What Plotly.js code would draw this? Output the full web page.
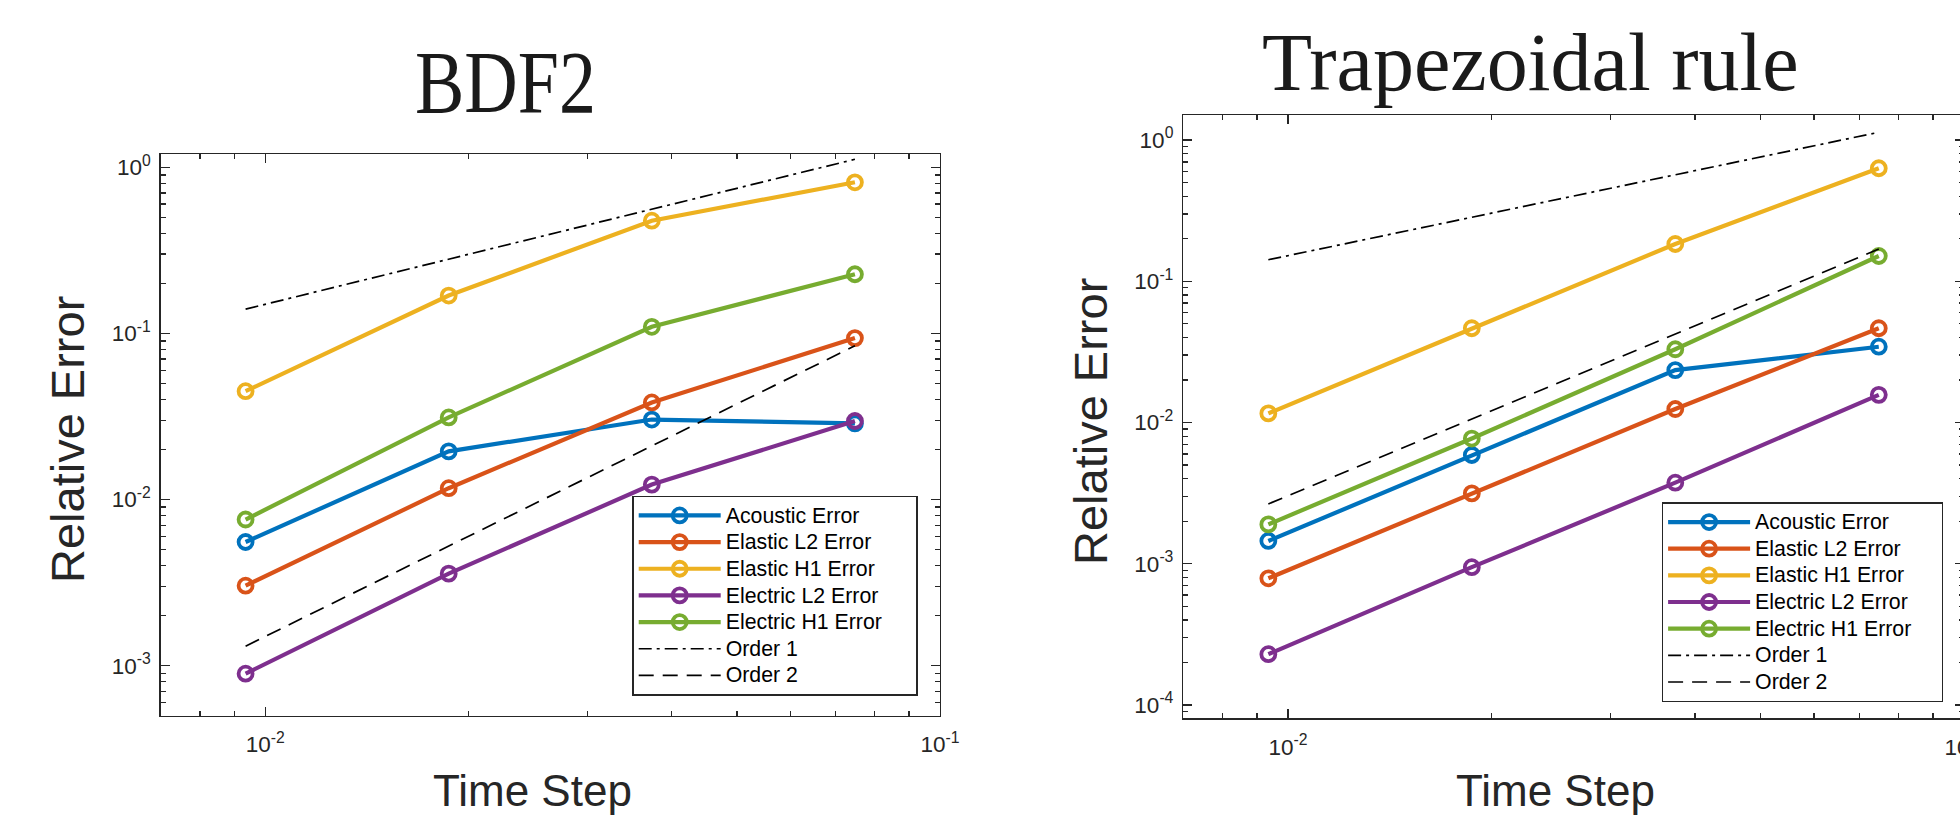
<!DOCTYPE html>
<html>
<head>
<meta charset="utf-8">
<script src="https://cdn.plot.ly/plotly-3.0.1.min.js"></script>
<style>
html,body{margin:0;padding:0;background:#fff;overflow:hidden;}
#chart{width:1980px;height:816px;}
/* legend: larger text with tight rows (as in the reference) */
#chart g.legend text, #chart g.legend2 text, #chart text.legendtext{font-size:21.3px !important;}
#chart g.scrollbox{clip-path:none !important;}
#chart g.legend rect.bg{width:284px !important;}
#chart g.legend2 rect.bg{width:280px !important;}
/* taller title glyphs, as in the reference */
#chart g.annotation[data-index="0"] text.annotation-text{
  transform-box:fill-box; transform-origin:center; transform:scaleY(1.2);
}
</style>
</head>
<body>
<div id="chart"></div>
<script>
// ---- data ----
const timeStep = [0.00935, 0.0187, 0.0374, 0.0748];
const seriesNames = ["Acoustic Error", "Elastic L2 Error", "Elastic H1 Error", "Electric L2 Error", "Electric H1 Error", "Order 1", "Order 2"];

// BDF2
const bdf2Acoustic   = [0.00555, 0.0195, 0.0303, 0.0287];
const bdf2ElasticL2  = [0.00303, 0.0117, 0.0384, 0.0937];
const bdf2ElasticH1  = [0.0449, 0.169, 0.477, 0.812];
const bdf2ElectricL2 = [0.000895, 0.00358, 0.0123, 0.0297];
const bdf2ElectricH1 = [0.00758, 0.0312, 0.1096, 0.227];
const bdf2Order1     = [0.140, 0.280, 0.559, 1.117];
const bdf2Order2     = [0.00131, 0.00525, 0.0210, 0.0842];

// Trapezoidal rule
const trapAcoustic   = [0.00145, 0.00589, 0.0235, 0.0344];
const trapElasticL2  = [0.000789, 0.00315, 0.01246, 0.0465];
const trapElasticH1  = [0.0116, 0.0465, 0.1836, 0.631];
const trapElectricL2 = [0.000229, 0.000946, 0.00375, 0.0157];
const trapElectricH1 = [0.0019, 0.0077, 0.033, 0.151];
const trapOrder1     = [0.142, 0.284, 0.567, 1.134];
const trapOrder2     = [0.00265, 0.0106, 0.0423, 0.169];

const xTickVals = [0.01, 0.1];
const xTickText = ["10<sup>-2</sup>", "10<sup>-1</sup>"];
const yTickValsL = [0.001, 0.01, 0.1, 1];
const yTickTextL = ["10<sup>-3</sup>", "10<sup>-2</sup>", "10<sup>-1</sup>", "10<sup>0</sup>"];
const yTickValsR = [0.0001, 0.001, 0.01, 0.1, 1];
const yTickTextR = ["10<sup>-4</sup>", "10<sup>-3</sup>", "10<sup>-2</sup>", "10<sup>-1</sup>", "10<sup>0</sup>"];

// ---- styling ----
const colors = ["#0072BD", "#D95319", "#EDB120", "#7E2F8E", "#77AC30"];
const W = 1980, H = 816;
const AX = "#262626";
const sans = "Liberation Sans, Arial, sans-serif";
const serif = "Liberation Serif, Times New Roman, serif";

function minorTicks(lo, hi) {
  const v = [];
  for (let e = lo; e <= hi; e++) for (let m = 2; m <= 9; m++) v.push(m * Math.pow(10, e));
  return v;
}

function dataTraces(sets, xa, ya, legend) {
  const tr = [];
  sets.slice(0, 5).forEach((ys, i) => {
    tr.push({
      x: timeStep, y: ys, xaxis: xa, yaxis: ya, legend: legend,
      name: seriesNames[i], type: "scatter", mode: "lines+markers",
      line: {color: colors[i], width: 4.2},
      marker: {symbol: "circle-open", size: 14, color: colors[i], line: {width: 3.8, color: colors[i]}}
    });
  });
  tr.push({x: timeStep, y: sets[5], xaxis: xa, yaxis: ya, legend: legend, name: seriesNames[5],
    type: "scatter", mode: "lines", line: {color: "#000", width: 1.7, dash: "13px,5px,3px,5px"}});
  tr.push({x: timeStep, y: sets[6], xaxis: xa, yaxis: ya, legend: legend, name: seriesNames[6],
    type: "scatter", mode: "lines", line: {color: "#000", width: 1.7, dash: "15px,9px"}});
  return tr;
}

const traces = [].concat(
  dataTraces([bdf2Acoustic, bdf2ElasticL2, bdf2ElasticH1, bdf2ElectricL2, bdf2ElectricH1, bdf2Order1, bdf2Order2], "x", "y", "legend"),
  dataTraces([trapAcoustic, trapElasticL2, trapElasticH1, trapElectricL2, trapElectricH1, trapOrder1, trapOrder2], "x2", "y2", "legend2")
);

function xAxis(domain, anchor) {
  return {
    type: "log", range: [-2.155, -1.0], domain: domain, anchor: anchor,
    showline: true, linecolor: AX, linewidth: 1.4, mirror: "allticks",
    ticks: "inside", ticklen: 9, tickwidth: 1.4, tickcolor: AX,
    tickmode: "array", tickvals: xTickVals, ticktext: xTickText,
    tickfont: {family: sans, size: 22.5, color: AX},
    showgrid: false, zeroline: false, ticklabelstandoff: 8, ticklabeloverflow: "allow",
    minor: {tickmode: "array", tickvals: minorTicks(-3, -2), ticks: "inside", ticklen: 5, tickwidth: 1.4, tickcolor: AX, showgrid: false}
  };
}
function yAxis(domain, anchor, range, tv, tt, lo) {
  return {
    type: "log", range: range, domain: domain, anchor: anchor,
    showline: true, linecolor: AX, linewidth: 1.4, mirror: "allticks",
    ticks: "inside", ticklen: 9, tickwidth: 1.4, tickcolor: AX,
    tickmode: "array", tickvals: tv, ticktext: tt,
    tickfont: {family: sans, size: 22.5, color: AX},
    showgrid: false, zeroline: false, ticklabelstandoff: 4, ticklabeloverflow: "allow",
    minor: {tickmode: "array", tickvals: minorTicks(lo, 0), ticks: "inside", ticklen: 5, tickwidth: 1.4, tickcolor: AX, showgrid: false}
  };
}

const px = v => v / W;
const py = v => 1 - v / H;

function legendStyle(x, y) {
  return {
    x: x, y: y,
    xanchor: "left", yanchor: "top", bgcolor: "#fff",
    bordercolor: AX, borderwidth: 1.4,
    font: {family: sans, size: 18.2, color: "#000"},
    itemwidth: 82, tracegroupgap: 0
  };
}

const layout = {
  width: W, height: H,
  margin: {l: 0, r: 0, t: 0, b: 0},
  paper_bgcolor: "#fff", plot_bgcolor: "#fff",
  showlegend: true,
  xaxis: xAxis([px(160.7), px(940)], "y"),
  yaxis: yAxis([py(716), py(154.3)], "x", [-3.303, 0.078], yTickValsL, yTickTextL, -4),
  xaxis2: xAxis([px(1183.3), px(1964)], "y2"),
  yaxis2: yAxis([py(718.3), py(115)], "x2", [-4.094, 0.177], yTickValsR, yTickTextR, -5),
  legend: legendStyle(px(632.3), py(495.7)),
  legend2: legendStyle(px(1661.7), py(502.3)),
  annotations: [
    {text: "BDF2", xref: "paper", yref: "paper", x: px(506), y: py(82), xanchor: "center", yanchor: "middle",
     showarrow: false, font: {family: serif, size: 74, color: "#1a1a1a"}},
    {text: "Trapezoidal rule", xref: "paper", yref: "paper", x: px(1530), y: py(63), xanchor: "center", yanchor: "middle",
     showarrow: false, font: {family: serif, size: 82, color: "#1a1a1a"}},
    {text: "Relative Error", xref: "paper", yref: "paper", x: px(67), y: py(440), xanchor: "center", yanchor: "middle",
     textangle: -90, showarrow: false, font: {family: sans, size: 47, color: AX}},
    {text: "Relative Error", xref: "paper", yref: "paper", x: px(1090), y: py(422), xanchor: "center", yanchor: "middle",
     textangle: -90, showarrow: false, font: {family: sans, size: 47, color: AX}},
    {text: "Time Step", xref: "paper", yref: "paper", x: px(532), y: py(790), xanchor: "center", yanchor: "middle",
     showarrow: false, font: {family: sans, size: 44, color: AX}},
    {text: "Time Step", xref: "paper", yref: "paper", x: px(1555), y: py(790), xanchor: "center", yanchor: "middle",
     showarrow: false, font: {family: sans, size: 44, color: AX}}
  ]
};

function enlargeLegendText(gd) {
  gd.querySelectorAll("g.infolayer text").forEach(t => {
    let p = t.parentNode, inLegend = false;
    while (p && p !== gd) {
      if (p.classList && (p.classList.contains("legend") || p.classList.contains("legend2") ||
          p.classList.contains("scrollbox") || p.classList.contains("traces"))) { inLegend = true; break; }
      p = p.parentNode;
    }
    if (inLegend) t.style.setProperty("font-size", "21.3px", "important");
  });
}

Plotly.newPlot("chart", traces, layout, {displayModeBar: false, staticPlot: true}).then(gd => {
  enlargeLegendText(gd);
  setTimeout(() => enlargeLegendText(gd), 50);
  setTimeout(() => enlargeLegendText(gd), 300);
});
</script>
</body>
</html>
